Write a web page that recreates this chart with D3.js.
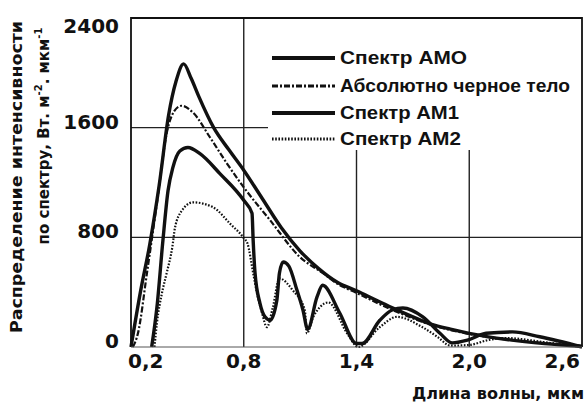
<!DOCTYPE html>
<html>
<head>
<meta charset="utf-8">
<script src="https://cdnjs.cloudflare.com/ajax/libs/d3/7.8.5/d3.min.js"></script>
<style>
  html, body { margin: 0; padding: 0; background: #fff; }
  svg { display: block; }
  text { font-family: "DejaVu Sans", sans-serif; fill: #111; }
  .legend-text { font-family: "Liberation Sans", Arial, sans-serif; }
</style>
</head>
<body>
<div id="chart"></div>
<script>
// wavelength (мкм) and intensity (Вт·м-2·мкм-1)
const wlAM0 = [0.2, 0.25, 0.3, 0.35, 0.4, 0.44, 0.48, 0.52, 0.56, 0.64, 0.72, 0.8, 0.9, 1.0, 1.1, 1.2, 1.3, 1.4, 1.5, 1.6, 1.7, 1.8, 1.9, 2.0, 2.2, 2.4, 2.6];
const am0 = [0, 400, 750, 1180, 1690, 1940, 2065, 1960, 1830, 1600, 1440, 1290, 1080, 870, 700, 570, 470, 410, 345, 280, 220, 165, 130, 100, 55, 25, 5];

const wlBB = [0.21, 0.237, 0.285, 0.34, 0.39, 0.43, 0.47, 0.53, 0.62, 0.71, 0.8, 0.94, 1.1, 1.22, 1.3, 1.4, 1.6, 1.8, 2.0, 2.2, 2.4, 2.6];
const blackBody = [0, 100, 540, 1070, 1560, 1720, 1760, 1710, 1530, 1340, 1165, 925, 655, 540, 460, 395, 265, 160, 95, 55, 28, 8];

const wlAM1 = [0.31, 0.338, 0.37, 0.397, 0.423, 0.46, 0.503, 0.567, 0.673, 0.8, 0.844, 0.85, 0.86, 0.886, 0.913, 0.94, 0.976, 0.99, 1.01, 1.04, 1.083, 1.115, 1.14, 1.19, 1.22, 1.31, 1.4, 1.43, 1.524, 1.59, 1.647, 1.753, 1.844, 1.91, 1.99, 2.09, 2.23, 2.375, 2.6];
const am1 = [0, 290, 780, 1140, 1310, 1430, 1455, 1410, 1265, 1070, 975, 780, 540, 320, 220, 195, 340, 540, 620, 590, 415, 270, 130, 365, 450, 250, 25, 25, 195, 270, 285, 220, 100, 30, 50, 100, 110, 75, 0];

const wlAM2 = [0.325, 0.338, 0.365, 0.39, 0.42, 0.434, 0.471, 0.53, 0.636, 0.727, 0.8, 0.82, 0.85, 0.87, 0.897, 0.923, 0.955, 0.99, 1.06, 1.125, 1.136, 1.17, 1.205, 1.25, 1.35, 1.41, 1.524, 1.615, 1.75, 1.83, 1.9, 2.0, 2.1, 2.2, 2.4, 2.6];
const am2 = [0, 175, 395, 540, 730, 870, 995, 1055, 1020, 900, 795, 755, 540, 395, 250, 145, 290, 500, 415, 270, 100, 220, 290, 325, 100, 0, 145, 220, 145, 75, 10, 15, 50, 65, 35, 0];

const yTicks = [0, 800, 1600, 2400];
const xTicks = [0.2, 0.8, 1.4, 2.0, 2.6];
const xTickLabels = ["0,2", "0,8", "1,4", "2,0", "2,6"];
const legendLabels = ["Спектр АМО", "Абсолютно черное тело", "Спектр АМ1", "Спектр АМ2"];

const W = 586, H = 403;
const margin = { top: 18, right: 4, bottom: 56, left: 131 };

const svg = d3.select("#chart").append("svg")
  .attr("width", W)
  .attr("height", H);

const x = d3.scaleLinear().domain([0.2, 2.6]).range([margin.left, W - margin.right]);
const y = d3.scaleLinear().domain([0, 2400]).range([H - margin.bottom, margin.top]);

const legendBox = { x0: 268, y0: 20, x1: x(2.6) - 1, y1: 150 };

// grid
const grid = svg.append("g").attr("stroke", "#222");
[0.8, 1.4, 2.0].forEach(v => {
  grid.append("line")
    .attr("x1", x(v)).attr("x2", x(v))
    .attr("y1", v > 1 ? legendBox.y1 : y(2400)).attr("y2", y(0))
    .attr("stroke-width", 1.4);
});
[800, 1600].forEach(v => {
  grid.append("line")
    .attr("x1", x(0.2)).attr("x2", v > 1000 ? legendBox.x0 : x(2.6))
    .attr("y1", y(v)).attr("y2", y(v))
    .attr("stroke-width", 1.2);
});

// curves
const line = d3.line()
  .x(d => x(d[0]))
  .y(d => y(d[1]))
  .curve(d3.curveMonotoneX);

const series = [
  { wl: wlAM0, val: am0, width: 3.4, dash: null },
  { wl: wlBB, val: blackBody, width: 2.2, dash: "6,2,2,2" },
  { wl: wlAM1, val: am1, width: 3.4, dash: null },
  { wl: wlAM2, val: am2, width: 2.2, dash: "1.6,1.6" }
];

series.forEach(s => {
  svg.append("path")
    .datum(s.wl.map((w, i) => [w, s.val[i]]))
    .attr("fill", "none")
    .attr("stroke", "#111")
    .attr("stroke-width", s.width)
    .attr("stroke-dasharray", s.dash)
    .attr("stroke-linejoin", "round")
    .attr("d", line);
});

// legend
svg.append("rect")
  .attr("x", legendBox.x0).attr("y", legendBox.y0)
  .attr("width", legendBox.x1 - legendBox.x0)
  .attr("height", legendBox.y1 - legendBox.y0)
  .attr("fill", "#fff");

const legendRows = [58, 86, 113, 139];
const legendWidths = [127, 230, 119, 121];
series.forEach((s, i) => {
  svg.append("line")
    .attr("x1", 272).attr("x2", 335)
    .attr("y1", legendRows[i]).attr("y2", legendRows[i])
    .attr("stroke", "#111")
    .attr("stroke-width", s.width + 0.6)
    .attr("stroke-dasharray", s.dash);
  svg.append("text")
    .attr("class", "legend-text")
    .attr("x", 340).attr("y", legendRows[i])
    .attr("dominant-baseline", "central")
    .attr("font-size", 18)
    .attr("font-weight", "bold")
    .attr("textLength", legendWidths[i])
    .attr("lengthAdjust", "spacingAndGlyphs")
    .text(legendLabels[i]);
});

// frame
svg.append("path")
  .attr("d", `M${x(0.2)},${y(0)}V${y(2400)}H${x(2.6)}V${y(0)}`)
  .attr("fill", "none")
  .attr("stroke", "#111")
  .attr("stroke-width", 1.8);
svg.append("line")
  .attr("x1", x(0.2)).attr("x2", x(2.6))
  .attr("y1", y(0)).attr("y2", y(0))
  .attr("stroke", "#555")
  .attr("stroke-width", 1);

// y tick labels
svg.append("g").selectAll("text")
  .data(yTicks)
  .join("text")
  .attr("x", 119)
  .attr("y", d => Math.max(y(d) - 6, 26))
  .attr("text-anchor", "end")
  .attr("dominant-baseline", "central")
  .attr("font-size", 20)
  .attr("font-weight", "bold")
  .text(d => d);

// x tick labels
svg.append("g").selectAll("text")
  .data(xTicks)
  .join("text")
  .attr("x", (d, i) => i === 0 ? x(d) - 3 : i === xTicks.length - 1 ? x(d) - 2 : x(d))
  .attr("y", 361)
  .attr("text-anchor", (d, i) => i === 0 ? "start" : i === xTicks.length - 1 ? "end" : "middle")
  .attr("dominant-baseline", "central")
  .attr("font-size", 20)
  .attr("font-weight", "bold")
  .text((d, i) => xTickLabels[i]);

// axis titles
svg.append("text")
  .attr("x", 412).attr("y", 394)
  .attr("dominant-baseline", "central")
  .attr("font-size", 15)
  .attr("font-weight", "bold")
  .attr("textLength", 172)
  .attr("lengthAdjust", "spacingAndGlyphs")
  .text("Длина волны, мкм");

svg.append("text")
  .attr("transform", "translate(17,177) rotate(-90)")
  .attr("text-anchor", "middle")
  .attr("dominant-baseline", "central")
  .attr("font-size", 15)
  .attr("font-weight", "bold")
  .attr("textLength", 312)
  .attr("lengthAdjust", "spacingAndGlyphs")
  .text("Распределение интенсивности");

const t2 = svg.append("text")
  .attr("transform", "translate(44,136) rotate(-90)")
  .attr("text-anchor", "middle")
  .attr("dominant-baseline", "central")
  .attr("font-size", 15)
  .attr("font-weight", "bold");
t2.append("tspan").text("по спектру, Вт. м");
t2.append("tspan").attr("font-size", 10).attr("dy", -6).text("-2");
t2.append("tspan").attr("dy", 6).text(". мкм");
t2.append("tspan").attr("font-size", 10).attr("dy", -6).text("-1");
</script>
</body>
</html>
